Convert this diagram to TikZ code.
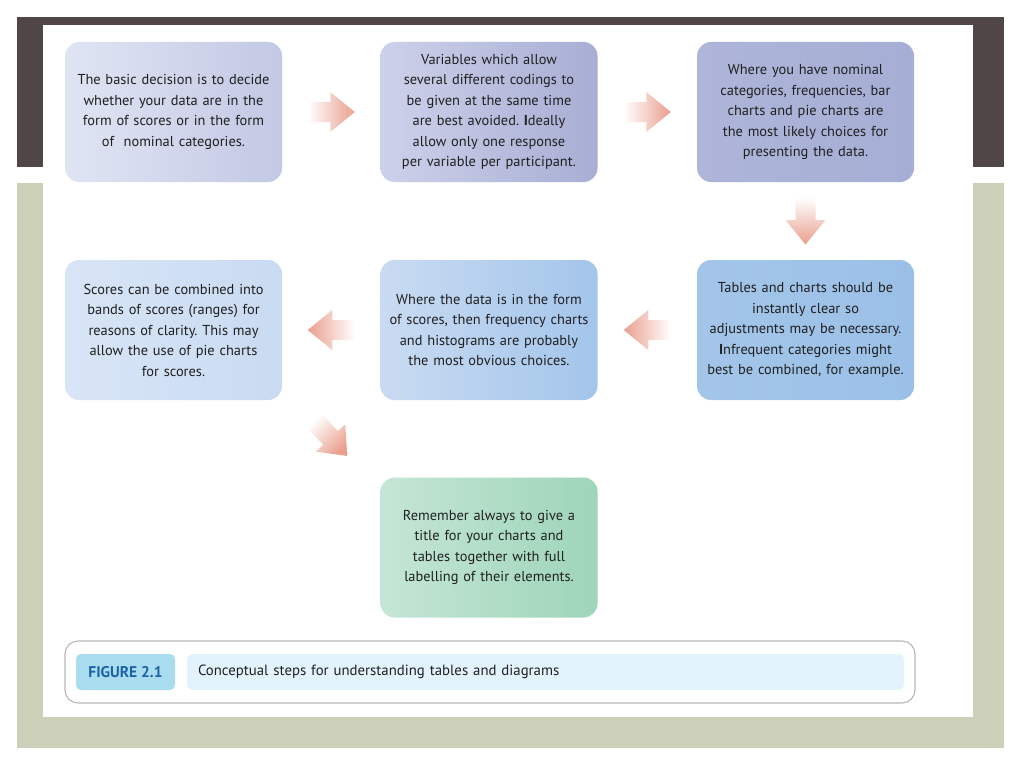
\documentclass[tikz,border=0pt]{standalone}
\usepackage{fontspec}
\setmainfont{PT Sans}
\usetikzlibrary{calc}
\frenchspacing
\definecolor{darkband}{HTML}{4F4645}
\definecolor{sage}{HTML}{CDD0B9}
\definecolor{txt}{HTML}{202020}
\definecolor{arrowc}{HTML}{E99F8E}
\definecolor{bAl}{HTML}{E0E5F4}\definecolor{bAr}{HTML}{C3C8E4}
\definecolor{bBl}{HTML}{CDD1EA}\definecolor{bBr}{HTML}{A8AED4}
\definecolor{bCl}{HTML}{AEB5D9}\definecolor{bCr}{HTML}{A6AED5}
\definecolor{bDl}{HTML}{A3C5E9}\definecolor{bDr}{HTML}{9BC0E7}
\definecolor{bEl}{HTML}{C9DBF2}\definecolor{bEr}{HTML}{A3C5EB}
\definecolor{bFl}{HTML}{D8E5F6}\definecolor{bFr}{HTML}{C9DBF2}
\definecolor{bGl}{HTML}{C5E6D6}\definecolor{bGr}{HTML}{9ED5B9}
\definecolor{figfill}{HTML}{A9DCEF}
\definecolor{figtext}{HTML}{1C63A5}
\definecolor{capfill}{HTML}{E3F3FC}
\definecolor{frame}{HTML}{B8B8B8}
\tikzset{
  stepbox/.style={rounded corners=14pt, minimum width=217pt, minimum height=140pt,
    text width=205pt, align=center, text=txt, inner sep=0pt,
    font=\fontsize{14.4}{20.5}\selectfont},
}
\newcommand\blockarrow[4]{%
  \begin{scope}[shift={($(#1)!0.5!(#2)$)}, rotate=#3]
    \shade[#4] (-23.5,-10) -- (-1,-10) -- (-1,-20) -- (23.5,0) -- (-1,20) -- (-1,10) -- (-23.5,10) -- cycle;
  \end{scope}}
\begin{document}
\begin{tikzpicture}[x=1pt,y=-1pt]
\useasboundingbox (0,0) rectangle (1024,768);
\fill[white] (0,0) rectangle (1024,768);
\fill[darkband] (17,17) rectangle (1004,167);
\fill[sage] (17,183) rectangle (1004,748);
\fill[white] (43,25) rectangle (973,717);

\node[stepbox, left color=bAl, right color=bAr] (b1) at (173.5,112)
  {The basic decision is to decide\\ whether your data are in the\\ form of scores or in the form\\ of\ \ nominal categories.};
\node[stepbox, left color=bBl, right color=bBr] (b2) at (489,112)
  {Variables which allow\\ several different codings to\\ be given at the same time\\ are best avoided. \textbf{I}deally\\ allow only one response\\ per variable per participant.};
\node[stepbox, left color=bCl, right color=bCr] (b3) at (805.5,112)
  {Where you have nominal\\ categories, frequencies, bar\\ charts and pie charts are\\ the most likely choices for\\ presenting the data.};
\node[stepbox, left color=bDl, right color=bDr] (b4) at (805.5,330)
  {Tables and charts should be\\ instantly clear so\\ adjustments may be necessary.\\ \textbf{I}nfrequent categories might\\ best be combined, for example.};
\node[stepbox, left color=bEl, right color=bEr] (b5) at (489,330)
  {Where the data is in the form\\ of scores, then frequency charts\\ and histograms are probably\\ the most obvious choices.};
\node[stepbox, left color=bFl, right color=bFr] (b6) at (173.5,330)
  {Scores can be combined into\\ bands of scores (ranges) for\\ reasons of clarity. This may\\ allow the use of pie charts\\ for scores.};
\node[stepbox, left color=bGl, right color=bGr] (b7) at (489,547.5)
  {Remember always to give a\\ title for your charts and\\ tables together with full\\ labelling of their elements.};

\blockarrow{b1.east}{b2.west}{0}{left color=white, right color=arrowc}
\blockarrow{b2.east}{b3.west}{0}{left color=white, right color=arrowc}
\blockarrow{b3.south}{b4.north}{-90}{top color=white, bottom color=arrowc}
\blockarrow{b4.west}{b5.east}{180}{left color=arrowc, right color=white}
\blockarrow{b5.west}{b6.east}{180}{left color=arrowc, right color=white}
\blockarrow{b6.south east}{b7.north west}{-47}{top color=white, bottom color=arrowc, shading angle=45}

\node[draw=frame, line width=1.1pt, rounded corners=13pt, minimum width=850pt, minimum height=62pt, inner sep=0pt] (capframe) at (490,672) {};
\node[fill=figfill, rounded corners=5pt, minimum width=99pt, minimum height=36pt, inner sep=0pt,
  text=figtext, font=\fontsize{15.5}{18}\selectfont\bfseries] (figlab) at (125.5,672) {FIGURE 2.1};
\node[fill=capfill, rounded corners=5pt, minimum width=717pt, minimum height=36pt, inner sep=0pt,
  text width=695pt, align=left, text=txt, font=\fontsize{14.8}{19}\selectfont] (captext) at (545.5,672)
  {Conceptual steps for understanding tables and diagrams};
\end{tikzpicture}
\end{document}
